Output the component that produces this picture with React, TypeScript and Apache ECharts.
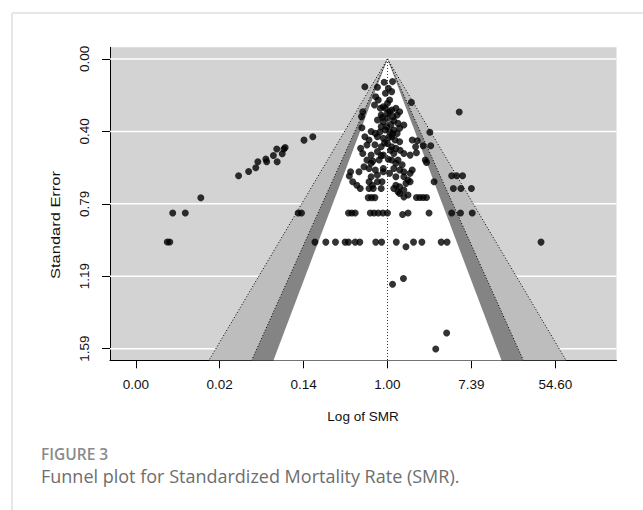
import React, { useEffect, useRef } from 'react';
import * as echarts from 'echarts';

// Axis ticks (x in log(SMR) units, labels shown as exp(value))
const xTickValues = [-6, -4, -2, 0, 2, 4];
const yTickValues = [0, 0.397, 0.794, 1.191, 1.588];

// Axis ranges (R default 4% extension)
const X_MIN = -6.615;
const X_MAX = 5.459;
const Y_MIN = -0.064;
const Y_MAX = 1.652;

// Contour levels (z for 99%, 95%, 90%)
const contourZ = [2.5758, 1.96, 1.6449];
const contourFill = ['#bdbdbd', '#848484', '#ffffff'];

// Studies: [log SMR, standard error]
const outlierStudies: [number, number][] = [
  [-5.25, 1.003], [-5.19, 1.003], [-5.12, 0.844], [-4.82, 0.844], [-4.45, 0.761],
  [-3.55, 0.64], [-3.31, 0.617], [-3.14, 0.596], [-3.09, 0.563], [-2.9, 0.549],
  [-2.88, 0.563], [-2.72, 0.529], [-2.63, 0.563], [-2.64, 0.494], [-2.51, 0.52],
  [-2.47, 0.494], [-2.44, 0.485], [-1.99, 0.445], [-1.78, 0.426], [-2.13, 0.844],
  [-2.05, 0.844], [1.71, 0.291], [3.66, 1.004], [1.41, 1.502], [1.15, 1.59],
  [0.12, 1.235], [0.38, 1.204], [1.53, 0.64], [1.65, 0.64], [1.79, 0.64],
  [1.57, 0.71], [1.75, 0.71], [2.0, 0.71],
];

const rowStudies: [number, number][] = [
  [-1.73, 1.004], [-1.47, 1.004], [-1.24, 1.004], [-1.01, 1.004], [-0.93, 1.004],
  [-0.77, 1.004], [-0.66, 1.004], [-0.28, 1.004], [-0.14, 1.004], [0.21, 1.004],
  [0.44, 1.029], [0.62, 1.004], [0.82, 1.004], [1.28, 1.004], [1.42, 1.004],
  [-0.93, 0.844], [-0.85, 0.844], [-0.77, 0.844], [-0.41, 0.844], [-0.32, 0.844],
  [-0.22, 0.844], [-0.11, 0.844], [0.0, 0.844], [0.36, 0.853], [0.49, 0.844],
  [0.99, 0.844], [1.53, 0.844], [1.74, 0.844], [2.02, 0.844],
  [-0.46, 0.76], [-0.38, 0.76], [-0.3, 0.76], [0.69, 0.759], [0.77, 0.759],
  [0.85, 0.759], [0.93, 0.759],
];

const clusterStudies: [number, number][] = [
  [-0.08, 0.128], [0.12, 0.124], [-0.54, 0.152], [-0.24, 0.155], [0.02, 0.161],
  [-0.05, 0.188], [0.1, 0.179], [-0.28, 0.207], [-0.22, 0.225], [0.05, 0.225],
  [0.0, 0.243], [0.57, 0.238], [-0.31, 0.252], [-0.17, 0.27], [-0.1, 0.262],
  [0.1, 0.28], [0.2, 0.27], [0.29, 0.289], [-0.59, 0.289], [-0.62, 0.316],
  [-0.15, 0.307], [0.0, 0.298], [0.13, 0.316], [0.23, 0.307], [-0.24, 0.335],
  [-0.1, 0.344], [0.0, 0.325], [0.15, 0.338], [0.25, 0.353], [0.39, 0.362],
  [0.29, 0.38], [-0.61, 0.377], [-0.39, 0.398], [-0.29, 0.408], [-0.15, 0.371],
  [-0.05, 0.389], [0.05, 0.398], [0.15, 0.389], [0.23, 0.408], [1.01, 0.402],
  [-0.54, 0.426], [-0.44, 0.444], [-0.24, 0.426], [-0.1, 0.435], [0.1, 0.426],
  [0.18, 0.444], [0.29, 0.454], [0.59, 0.444], [0.71, 0.448], [-0.64, 0.49],
  [-0.49, 0.472], [-0.15, 0.481], [0.0, 0.463], [0.1, 0.481], [0.2, 0.49],
  [0.67, 0.481], [0.85, 0.476], [1.03, 0.476], [-0.59, 0.518], [-0.39, 0.527],
  [-0.24, 0.508], [-0.1, 0.527], [0.15, 0.518], [0.39, 0.518], [0.54, 0.527],
  [0.69, 0.514], [-0.49, 0.554], [-0.39, 0.572], [-0.2, 0.554], [0.1, 0.554],
  [0.2, 0.572], [0.25, 0.554], [0.9, 0.554], [0.93, 0.567], [-0.56, 0.591],
  [-0.44, 0.6], [-0.29, 0.609], [-0.1, 0.6], [0.15, 0.6], [0.29, 0.609],
  [0.39, 0.618], [0.54, 0.627], [0.59, 0.609], [-0.88, 0.618], [-0.91, 0.642],
  [-0.68, 0.618], [-0.39, 0.646], [-0.24, 0.636], [-0.1, 0.618], [0.05, 0.627],
  [0.2, 0.646], [0.39, 0.646], [0.49, 0.664], [1.11, 0.673], [-0.83, 0.673],
  [-0.73, 0.692], [-0.65, 0.71], [-0.44, 0.673], [-0.36, 0.692], [-0.24, 0.673],
  [-0.13, 0.673], [0.15, 0.71], [0.2, 0.692], [0.29, 0.701], [0.44, 0.682],
  [0.54, 0.673], [-0.44, 0.71], [-0.34, 0.71], [-0.15, 0.71], [0.25, 0.728],
  [0.29, 0.737], [0.39, 0.719], [0.39, 0.756], [0.49, 0.746],
  [-0.05, 0.27], [0.05, 0.29], [-0.12, 0.32], [0.08, 0.36], [-0.02, 0.37],
  [0.12, 0.41], [-0.18, 0.4], [0.03, 0.43], [-0.07, 0.46], [0.07, 0.5],
  [-0.15, 0.53], [0.02, 0.55], [-0.3, 0.47], [0.3, 0.5], [-0.35, 0.56], [0.35, 0.58],
];

const FONT = "'Liberation Sans', Arial, Helvetica, sans-serif";

function buildOption() {
  const allStudies = [...outlierStudies, ...rowStudies, ...clusterStudies];
  return {
    animation: false,
    grid: {
      left: 110,
      right: 26.5,
      top: 47.3,
      bottom: 149.7,
      show: true,
      backgroundColor: '#d3d3d3',
      borderWidth: 0,
    },
    xAxis: {
      type: 'value',
      min: X_MIN,
      max: X_MAX,
      axisLine: { show: true, onZero: false, lineStyle: { color: '#000', width: 1 } },
      axisTick: { show: true, customValues: xTickValues, length: 8, lineStyle: { color: '#000' } },
      axisLabel: {
        customValues: xTickValues,
        formatter: (v: number) => Math.exp(v).toFixed(2),
        margin: 17,
        fontSize: 13.5,
        fontFamily: FONT,
        color: '#111',
      },
      splitLine: { show: false },
    },
    yAxis: {
      type: 'value',
      inverse: true,
      min: Y_MIN,
      max: Y_MAX,
      axisLine: { show: true, onZero: false, lineStyle: { color: '#000', width: 1 } },
      axisTick: { show: true, customValues: yTickValues, length: 8, lineStyle: { color: '#000' } },
      axisLabel: {
        customValues: yTickValues,
        formatter: (v: number) => v.toFixed(2),
        rotate: 90,
        margin: 19,
        fontSize: 13.5,
        fontFamily: FONT,
        color: '#111',
      },
      splitLine: { show: false },
    },
    graphic: [
      { type: 'line', shape: { x1: 12, y1: 13, x2: 643, y2: 13 }, style: { stroke: '#dedede', lineWidth: 1.5 } },
      { type: 'line', shape: { x1: 12, y1: 13, x2: 12, y2: 510 }, style: { stroke: '#dedede', lineWidth: 1.5 } },
      {
        type: 'text',
        x: 363,
        y: 416.7,
        style: { text: 'Log of SMR', fontSize: 13.5, fontFamily: FONT, fill: '#111', textAlign: 'center', textVerticalAlign: 'middle' },
      },
      {
        type: 'text',
        x: 55,
        y: 225,
        rotation: Math.PI / 2,
        scaleX: 1.22,
        style: { text: 'Standard Error', fontSize: 13.5, fontFamily: FONT, fill: '#111', textAlign: 'center', textVerticalAlign: 'middle' },
      },
      {
        type: 'text',
        x: 41,
        y: 454,
        style: { text: 'FIGURE 3', fontSize: 15.5, fontWeight: 600, fontFamily: "'Open Sans', sans-serif", fill: '#8a8a8a', textAlign: 'left', textVerticalAlign: 'middle' },
      },
      {
        type: 'text',
        x: 41,
        y: 476,
        style: { text: 'Funnel plot for Standardized Mortality Rate (SMR).', fontSize: 18, fontFamily: "'Open Sans', sans-serif", fill: '#6e6e6e', textAlign: 'left', textVerticalAlign: 'middle' },
      },
    ],
    series: [
      {
        type: 'custom',
        silent: true,
        z: 1,
        data: [[0, 0]],
        renderItem: (_params: any, api: any) => {
          const children: any[] = [];
          yTickValues.forEach((t) => {
            const a = api.coord([X_MIN, t]);
            const b = api.coord([X_MAX, t]);
            children.push({
              type: 'line',
              shape: { x1: a[0], y1: a[1], x2: b[0], y2: b[1] },
              style: { stroke: '#ffffff', lineWidth: 1.5 },
            });
          });
          const apex = api.coord([0, 0]);
          contourZ.forEach((z, i) => {
            const l = api.coord([-z * Y_MAX, Y_MAX]);
            const r = api.coord([z * Y_MAX, Y_MAX]);
            children.push({
              type: 'polygon',
              shape: { points: [apex, l, r] },
              style: { fill: contourFill[i], stroke: null },
            });
          });
          [contourZ[0], contourZ[1]].forEach((z) => {
            [-1, 1].forEach((s) => {
              const e = api.coord([s * z * Y_MAX, Y_MAX]);
              children.push({
                type: 'line',
                shape: { x1: apex[0], y1: apex[1], x2: e[0], y2: e[1] },
                style: { stroke: '#000', lineWidth: 1, lineDash: [1, 2] },
              });
            });
          });
          const bottom = api.coord([0, Y_MAX]);
          children.push({
            type: 'line',
            shape: { x1: apex[0], y1: apex[1], x2: bottom[0], y2: bottom[1] },
            style: { stroke: '#333', lineWidth: 1, lineDash: [1, 2] },
          });
          return { type: 'group', children };
        },
      },
      {
        type: 'scatter',
        z: 3,
        symbol: 'circle',
        symbolSize: 7,
        itemStyle: { color: '#000' },
        data: allStudies,
      },
    ],
  };
}

export default function App() {
  const ref = useRef<HTMLDivElement>(null);
  useEffect(() => {
    if (!ref.current) return;
    const chart = echarts.init(ref.current, null, { renderer: 'svg' });
    chart.setOption(buildOption() as any);
    return () => chart.dispose();
  }, []);
  return (
    <div
      ref={ref}
      style={{ position: 'fixed', left: 0, top: 0, width: 643, height: 510, background: '#ffffff' }}
    />
  );
}
